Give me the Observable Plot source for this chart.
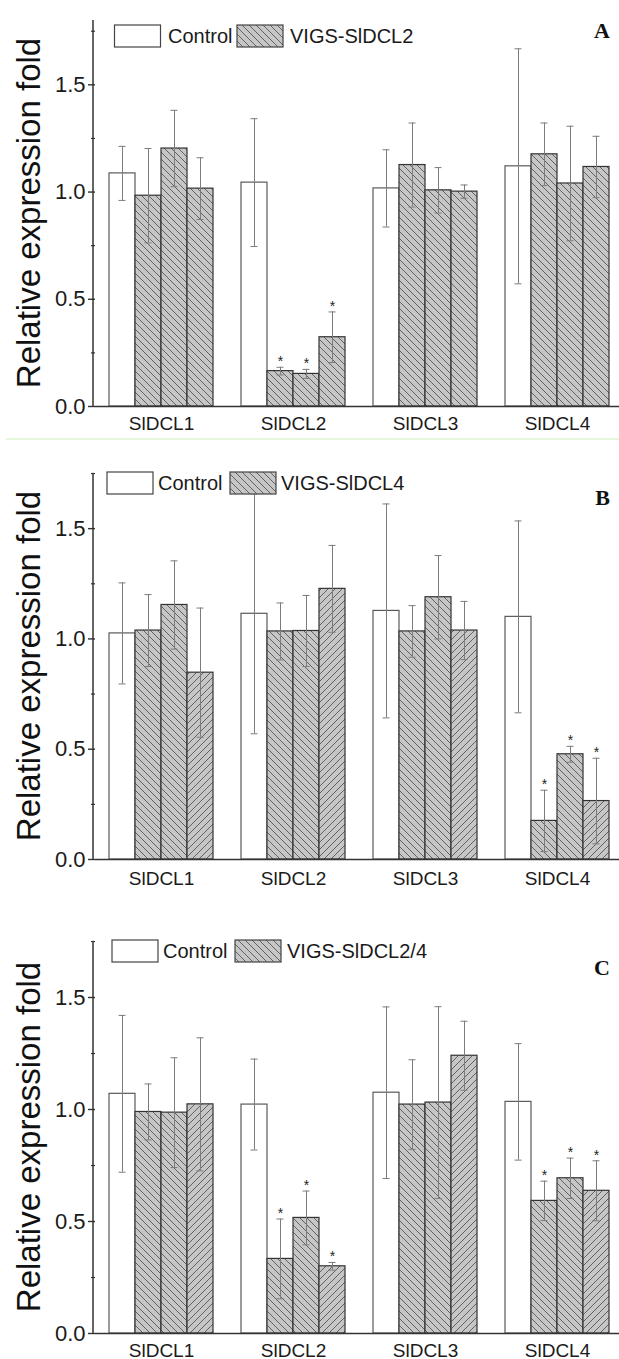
<!DOCTYPE html>
<html>
<head>
<meta charset="utf-8">
<script src="https://cdn.jsdelivr.net/npm/d3@7"></script>
<script src="https://cdn.jsdelivr.net/npm/@observablehq/plot@0.6"></script>
<style>
  html, body { margin: 0; padding: 0; background: #ffffff; }
  #chart { width: 619px; }
  #chart svg { display: block; overflow: visible; }
</style>
</head>
<body>
<div id="chart"></div>
<script>
// ---------- data ----------
const genes = ["SlDCL1", "SlDCL2", "SlDCL3", "SlDCL4"];
const series = ["Control", "VIGS-1", "VIGS-2", "VIGS-3"];

// Panel A: VIGS-SlDCL2 (rows = genes, cols = series)
const meanA = [
  [1.087, 0.983, 1.203, 1.016],
  [1.044, 0.165, 0.152, 0.323],
  [1.017, 1.126, 1.008, 1.002],
  [1.120, 1.176, 1.040, 1.117]
];
const errA = [
  [0.126, 0.220, 0.178, 0.144],
  [0.298, 0.018, 0.021, 0.118],
  [0.180, 0.196, 0.106, 0.031],
  [0.548, 0.146, 0.267, 0.143]
];
const sigA = [[0,0,0,0],[0,1,1,1],[0,0,0,0],[0,0,0,0]];

// Panel B: VIGS-SlDCL4
const meanB = [
  [1.025, 1.038, 1.154, 0.847],
  [1.114, 1.034, 1.036, 1.227],
  [1.127, 1.034, 1.189, 1.038],
  [1.100, 0.175, 0.477, 0.265]
];
const errB = [
  [0.229, 0.163, 0.200, 0.293],
  [0.544, 0.129, 0.161, 0.197],
  [0.485, 0.117, 0.189, 0.132],
  [0.435, 0.139, 0.036, 0.194]
];
const sigB = [[0,0,0,0],[0,0,0,0],[0,0,0,0],[0,1,1,1]];

// Panel C: VIGS-SlDCL2/4
const meanC = [
  [1.070, 0.989, 0.986, 1.023],
  [1.022, 0.333, 0.516, 0.300],
  [1.075, 1.022, 1.031, 1.240],
  [1.034, 0.592, 0.693, 0.637]
];
const errC = [
  [0.350, 0.125, 0.245, 0.297],
  [0.203, 0.178, 0.120, 0.017],
  [0.383, 0.200, 0.428, 0.154],
  [0.260, 0.088, 0.090, 0.134]
];
const sigC = [[0,0,0,0],[0,1,1,1],[0,0,0,0],[0,1,1,1]];

const legendControl = "Control";
const legendVigs = ["VIGS-SlDCL2", "VIGS-SlDCL4", "VIGS-SlDCL2/4"];
const panelLetters = ["A", "B", "C"];
const yLabel = "Relative expression fold";
const yMajorTicks = [0, 0.5, 1.0, 1.5];
const yMinorTicks = [0.25, 0.75, 1.25, 1.75];
const yMax = [1.8, 1.75, 1.75];
// hatch direction per series ("b" = \\\ , "f" = ///)
const hatchA = ["", "b", "b", "b"];
const hatchBC = ["", "b", "b", "f"];

// ---------- helpers ----------
const SANS = "'Liberation Sans', Arial, sans-serif";
const SERIF = "'Liberation Serif', 'Times New Roman', serif";

function rows(mean, err, sig) {
  const out = [];
  genes.forEach((g, i) => series.forEach((s, j) => out.push({
    gene: g, series: s, si: j, value: mean[i][j], err: err[i][j], sig: sig[i][j]
  })));
  return out;
}

function addPatterns(defs, id) {
  const mk = (pid, d) => {
    const p = defs.append("pattern").attr("id", pid)
      .attr("patternUnits", "userSpaceOnUse").attr("width", 7).attr("height", 7);
    p.append("rect").attr("width", 7).attr("height", 7).attr("fill", "#c6c6c6");
    p.append("path").attr("d", d).attr("stroke", "#505050").attr("stroke-width", 0.85).attr("fill", "none");
  };
  mk(id + "-b", "M-1,-1L8,8M-1,6L1,8M6,-1L8,1");
  mk(id + "-f", "M-1,8L8,-1M-1,1L1,-1M6,8L8,6");
}

function panel(cfg) {
  const data = rows(cfg.mean, cfg.err, cfg.sig);
  const fillFor = d => d.si === 0 ? "#ffffff" : `url(#${cfg.id}-${cfg.hatch[d.si]})`;
  const strokeFor = d => d.si === 0 ? "#5a5a5a" : "#333333";
  const svg = Plot.plot({
    width: 619,
    height: cfg.height,
    marginTop: cfg.mt,
    marginBottom: cfg.mb,
    marginLeft: 93,
    marginRight: -5,
    style: { fontFamily: SANS, background: "transparent", color: "#1a1a1a", overflow: "visible" },
    fx: { domain: genes, padding: 0, label: null },
    x: { domain: series, paddingInner: 0, paddingOuter: 0.5, axis: null },
    y: { domain: [0, cfg.ymax], label: null },
    color: { type: "identity" },
    marks: [
      Plot.barY(data, { fx: "gene", x: "series", y: "value", fill: fillFor, stroke: strokeFor, strokeWidth: 1.2 }),
      Plot.ruleX(data, { fx: "gene", x: "series", y1: d => d.value - d.err, y2: d => d.value + d.err, stroke: "#7c7c7c", strokeWidth: 1 }),
      Plot.tickY(data, { fx: "gene", x: "series", y: d => d.value + d.err, stroke: "#7c7c7c", strokeWidth: 1, insetLeft: 9.5, insetRight: 9.5 }),
      Plot.tickY(data, { fx: "gene", x: "series", y: d => d.value - d.err, stroke: "#7c7c7c", strokeWidth: 1, insetLeft: 9.5, insetRight: 9.5 }),
      Plot.text(data.filter(d => d.sig), { fx: "gene", x: "series", y: d => d.value + d.err, text: () => "*", lineAnchor: "bottom", dy: -1, fontSize: 14, fill: "#222" }),
      Plot.ruleY([0], { stroke: "#333", strokeWidth: 1.5 }),
      Plot.axisY({ ticks: yMajorTicks, tickSize: 7, tickPadding: 3, fontSize: 22, tickFormat: d => d.toFixed(1), stroke: "#333", strokeWidth: 1.4, label: null }),
      Plot.axisY({ ticks: yMinorTicks.filter(t => t <= cfg.ymax), tickSize: 4, tickFormat: () => "", stroke: "#333", strokeWidth: 1.2, label: null }),
      Plot.axisFx({ anchor: "bottom", tickSize: 0, tickPadding: cfg.xpad, fontSize: 19, label: null })
    ]
  });

  const s = d3.select(svg);
  addPatterns(s.insert("defs", ":first-child"), cfg.id);

  // y axis line, drawn from the plot's own y scale
  const ys = svg.scale("y");
  s.append("line").attr("x1", 93).attr("x2", 93)
    .attr("y1", ys.apply(0) + 0.75).attr("y2", ys.apply(cfg.ymax))
    .attr("stroke", "#333").attr("stroke-width", 1.5);

  // legend
  const lg = s.append("g").attr("text-anchor", "start");
  const L = cfg.legend;
  lg.append("rect").attr("x", L.cx).attr("y", L.y).attr("width", 46).attr("height", 22)
    .attr("fill", "#ffffff").attr("stroke", "#444").attr("stroke-width", 1.2);
  lg.append("text").attr("x", L.ctx).attr("y", L.base).text(legendControl)
    .attr("text-anchor", "start")
    .attr("font-family", SANS).attr("font-size", 20).attr("fill", "#1a1a1a");
  lg.append("rect").attr("x", L.vx).attr("y", L.y).attr("width", 46).attr("height", 22)
    .attr("fill", `url(#${cfg.id}-b)`).attr("stroke", "#444").attr("stroke-width", 1.2);
  lg.append("text").attr("x", L.vtx).attr("y", L.base).text(cfg.vigs)
    .attr("text-anchor", "start")
    .attr("font-family", SANS).attr("font-size", 20).attr("fill", "#1a1a1a");

  // panel letter
  s.append("text").attr("x", 610).attr("y", cfg.letterY).attr("text-anchor", "end")
    .attr("font-family", SERIF).attr("font-weight", "bold").attr("font-size", 22)
    .attr("fill", "#111").text(cfg.letter);

  // y label
  const cy = (cfg.mt + (cfg.height - cfg.mb)) / 2;
  s.append("text").attr("transform", `translate(40,${cy}) rotate(-90)`)
    .attr("text-anchor", "middle").attr("font-family", SANS).attr("font-size", 33)
    .attr("fill", "#111").text(yLabel);

  if (cfg.separator) {
    s.append("line").attr("x1", 6).attr("x2", 619).attr("y1", cfg.height - 1).attr("y2", cfg.height - 1)
      .attr("stroke", "#cdeeb8").attr("stroke-width", 1);
  }
  return svg;
}

const chart = document.getElementById("chart");
chart.appendChild(panel({
  id: "pa", mean: meanA, err: errA, sig: sigA, hatch: hatchA, ymax: yMax[0],
  height: 440, mt: 20, mb: 34, xpad: 10, letter: panelLetters[0], letterY: 38,
  vigs: legendVigs[0], separator: true,
  legend: { cx: 114.5, ctx: 168, vx: 237, vtx: 290, y: 25, base: 43 }
}));
chart.appendChild(panel({
  id: "pb", mean: meanB, err: errB, sig: sigB, hatch: hatchBC, ymax: yMax[1],
  height: 465, mt: 33, mb: 46, xpad: 12, letter: panelLetters[1], letterY: 65,
  vigs: legendVigs[1], separator: false,
  legend: { cx: 107, ctx: 158, vx: 230, vtx: 281, y: 32, base: 50 }
}));
chart.appendChild(panel({
  id: "pc", mean: meanC, err: errC, sig: sigC, hatch: hatchBC, ymax: yMax[2],
  height: 454, mt: 36, mb: 26, xpad: 10, letter: panelLetters[2], letterY: 70,
  vigs: legendVigs[2], separator: false,
  legend: { cx: 112, ctx: 163, vx: 235, vtx: 287, y: 35, base: 53 }
}));
</script>
</body>
</html>
